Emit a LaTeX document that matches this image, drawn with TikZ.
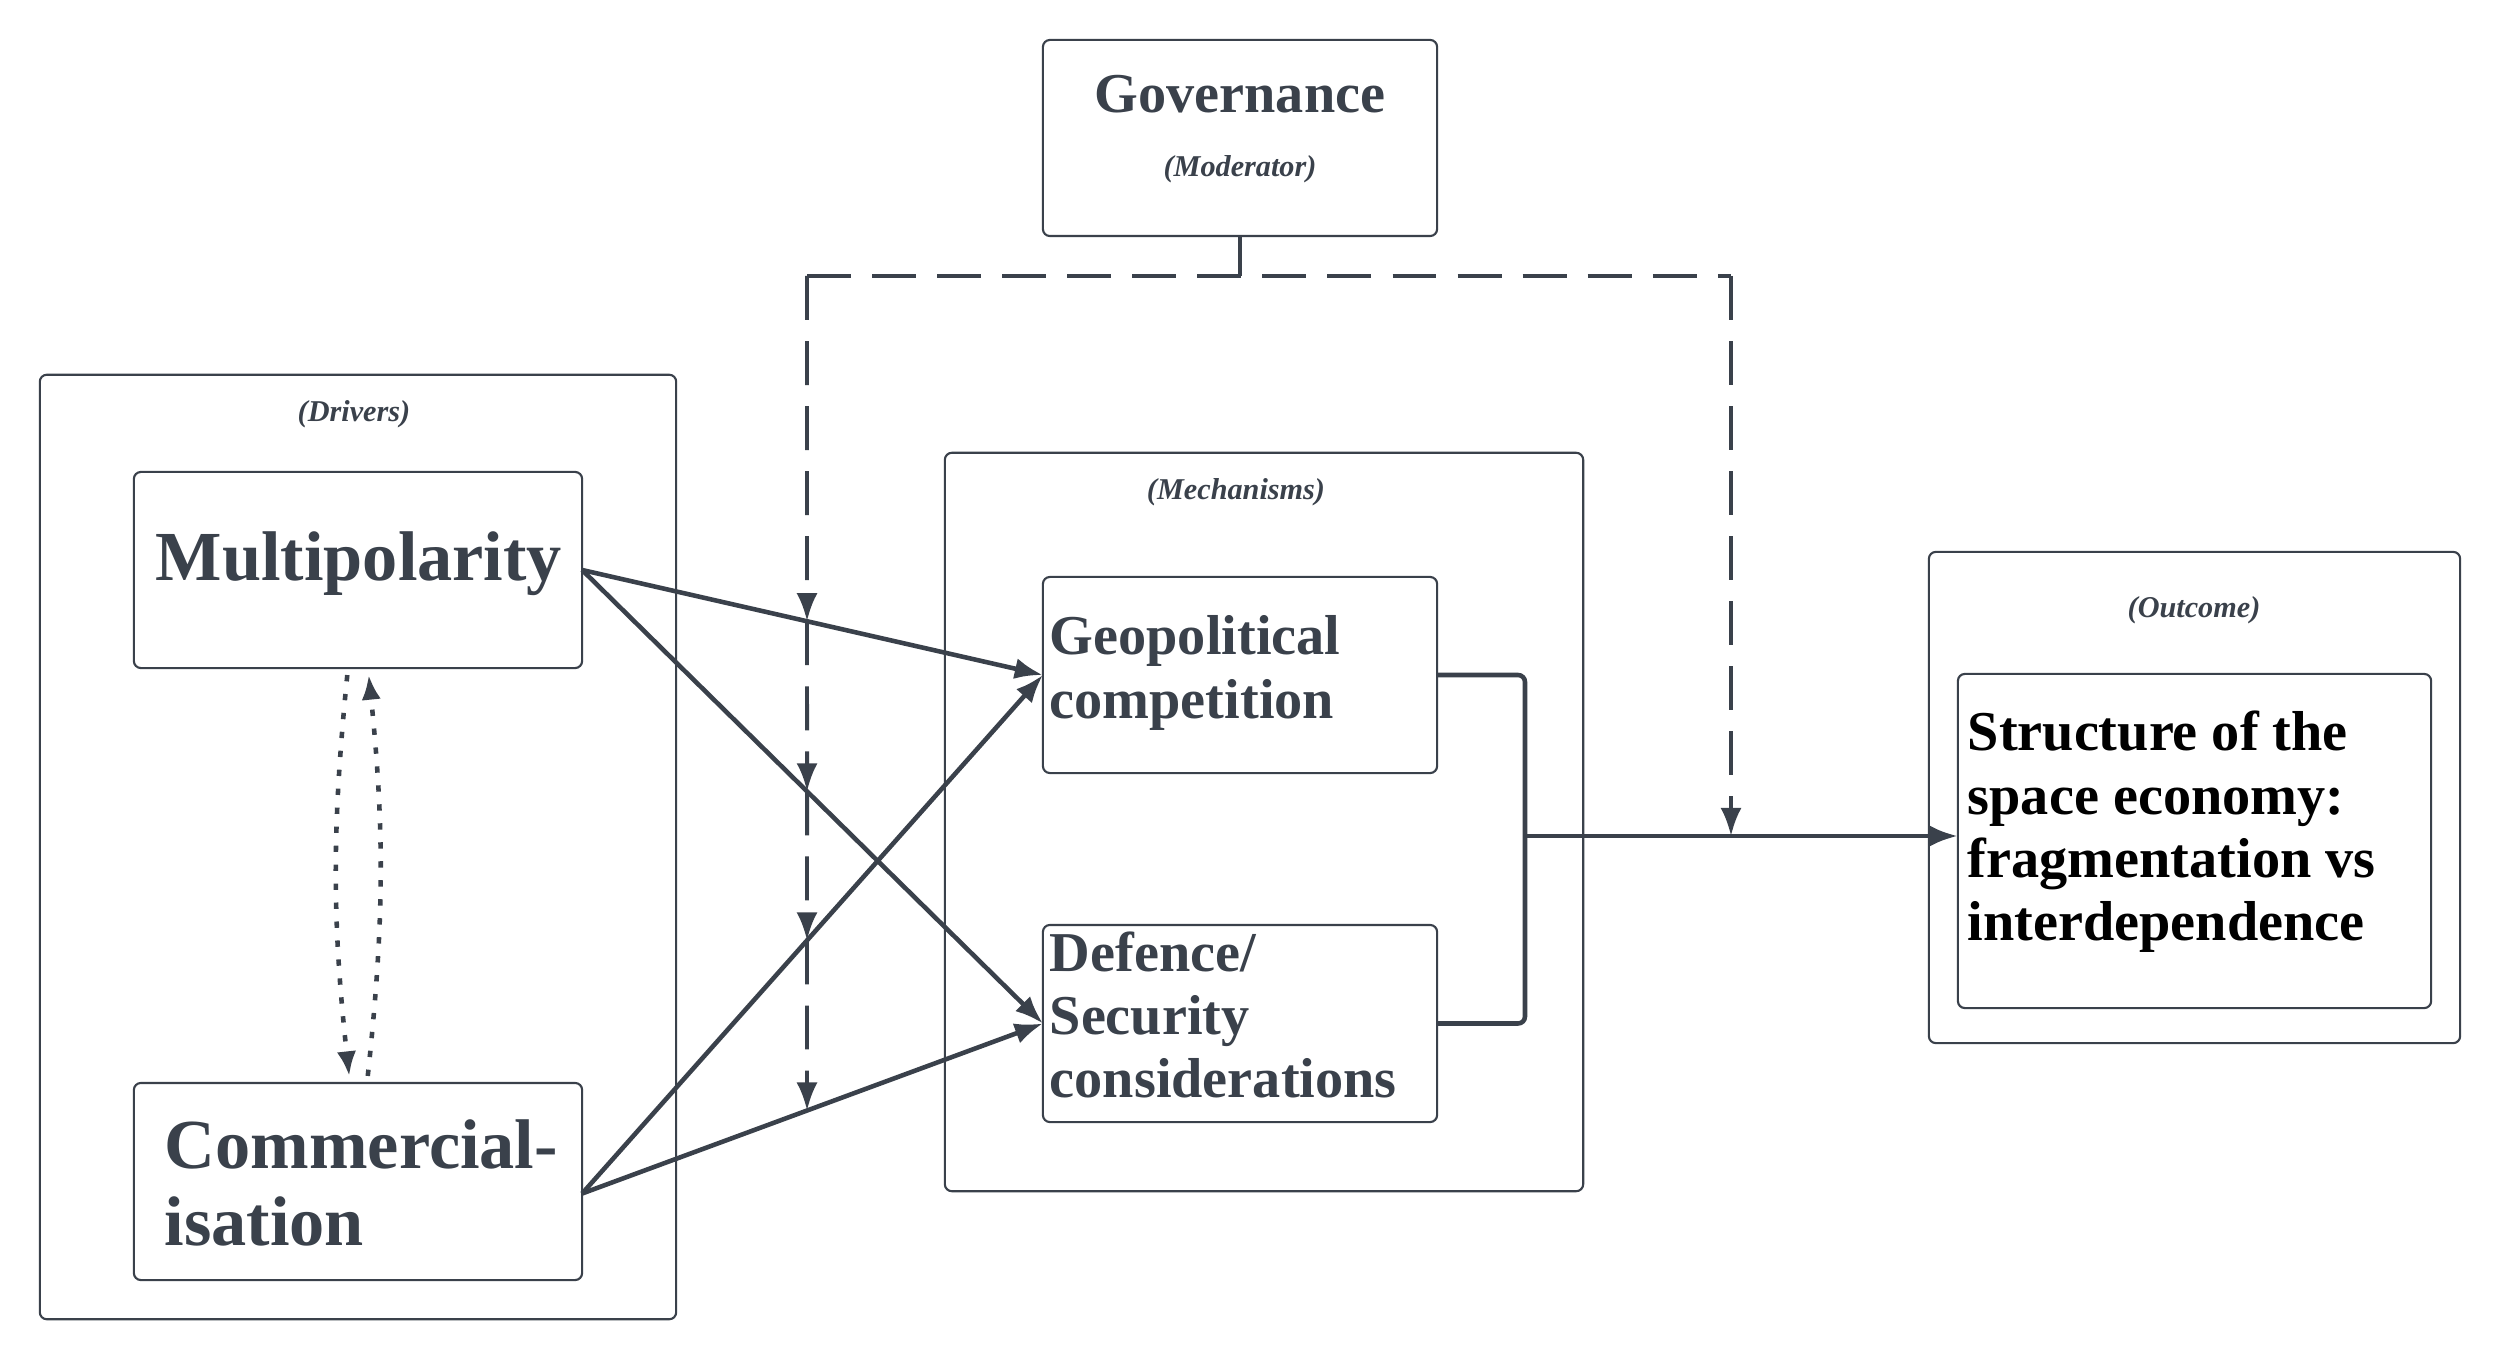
\documentclass[tikz,border=0pt]{standalone}
\usepackage{fontspec}
\setmainfont{Liberation Serif}
\usetikzlibrary{arrows.meta,calc}
\definecolor{slate_grey}{RGB}{58,65,75}

\tikzset{
	box/.style={draw=slate_grey,line width=0.6pt,rounded corners=2pt,inner sep=0pt,outer sep=0pt},
	tag/.style={text=slate_grey,font=\fontsize{8.6}{10}\selectfont\bfseries\itshape,inner sep=0pt},
	boxtext/.style={text=slate_grey,font=\fontsize{16}{18}\selectfont\bfseries,align=left,inner sep=0pt,anchor=west},
	link/.style={draw=slate_grey,line width=1.3pt,-{Latex[length=8pt,width=6pt]}},
	modlink/.style={draw=slate_grey,line width=1.1pt,dash pattern=on 12.5pt off 6pt},
	modarrow/.style={modlink,-{Latex[length=8pt,width=6pt]}},
	dotlink/.style={draw=slate_grey,line width=1.3pt,dash pattern=on 1.8pt off 3.6pt,shorten <=2pt,shorten >=2pt,-{Latex[length=7pt,width=5.5pt]}}
}

\begin{document}
\begin{tikzpicture}[x=0.01cm,y=-0.01cm]
	\useasboundingbox (0,0) rectangle (2500,1358);

	% frames
	\node[box,minimum width=6.36cm,minimum height=9.44cm] (drivers) at (358,847) {};
	\node[box,minimum width=6.38cm,minimum height=7.38cm] (mech) at (1264,822) {};
	\node[box,minimum width=5.31cm,minimum height=4.91cm] (outcome) at (2194.5,797.5) {};
	\node[tag] (driverstag) at (354,414) {(Drivers)};
	\node[tag] (mechtag) at (1236,492) {(Mechanisms)};
	\node[tag] (outcometag) at (2194,610) {(Outcome)};

	% boxes
	\node[box,minimum width=3.94cm,minimum height=1.96cm] (gov) at (1240,138) {};
	\node[text=slate_grey,font=\fontsize{16}{18}\selectfont\bfseries,inner sep=0pt] (govtxt) at (1240,94) {Governance};
	\node[tag] (govtag) at (1240,169) {(Moderator)};

	\node[box,minimum width=4.48cm,minimum height=1.96cm] (multi) at (358,570) {};
	\node[boxtext,font=\fontsize{20}{22}\selectfont\bfseries] (multitxt) at (155,564) {Multipolarity};
	\node[box,minimum width=4.48cm,minimum height=1.97cm] (comm) at (358,1181.5) {};
	\node[boxtext,font=\fontsize{20}{22}\selectfont\bfseries] (commtxt) at (164,1183) {Commercial-\\isation};

	\node[box,minimum width=3.94cm,minimum height=1.96cm] (geo) at (1240,675) {};
	\node[boxtext] (geotxt) at (1049,673) {Geopolitical\\competition};
	\node[box,minimum width=3.94cm,minimum height=1.97cm] (def) at (1240,1023.5) {};
	\node[boxtext] (deftxt) at (1049,1015) {Defence/\\Security\\considerations};

	\node[box,minimum width=4.73cm,minimum height=3.34cm] (struct) at (2194.5,841) {};
	\node[boxtext,text=black] (structtxt) at (1967,832) {Structure of the\\space economy:\\fragmentation vs\\interdependence};

	% drivers to mechanisms
	\coordinate (multiout) at (multi.east);
	\coordinate (commout) at ([yshift=-0.12cm]comm.east);
	\foreach \x/\y in {multiout/geo,multiout/def,commout/geo,commout/def}
		\draw[link] (\x) -- (\y.west);

	\draw[dotlink] ([xshift=-0.1cm]multi.south) to[bend right=6] ([xshift=-0.08cm]comm.north);
	\draw[dotlink] ([xshift=0.09cm]comm.north) to[bend right=6] ([xshift=0.1cm]multi.south);

	% mechanisms to outcome
	\coordinate (join) at (1525,836);
	\draw[slate_grey,line width=1.3pt,rounded corners=2pt] (geo.east) -| (join) |- (def.east);
	\draw[link] (join) -- (join -| struct.west);

	% moderator
	\coordinate (modjoin) at (gov.south |- 0,276);
	\coordinate (modleft) at (807,276);
	\coordinate (modright) at (1731,276);
	\coordinate (modbottom) at (807,1300);
	\draw[slate_grey,line width=1.1pt] (gov.south) -- (modjoin);
	\draw[modlink] (modleft) -- (modright);
	\coordinate (cut1) at (intersection of modleft--modbottom and multiout--geo.west);
	\coordinate (cut2) at (intersection of modleft--modbottom and multiout--def.west);
	\coordinate (cut3) at (intersection of modleft--modbottom and commout--geo.west);
	\coordinate (cut4) at (intersection of modleft--modbottom and commout--def.west);
	\foreach \a/\b in {modleft/cut1,cut1/cut2,cut2/cut3,cut3/cut4}
		\draw[modarrow] (\a) -- (\b);
	\draw[modarrow] (modright) -- (modright |- join);
\end{tikzpicture}
\end{document}
